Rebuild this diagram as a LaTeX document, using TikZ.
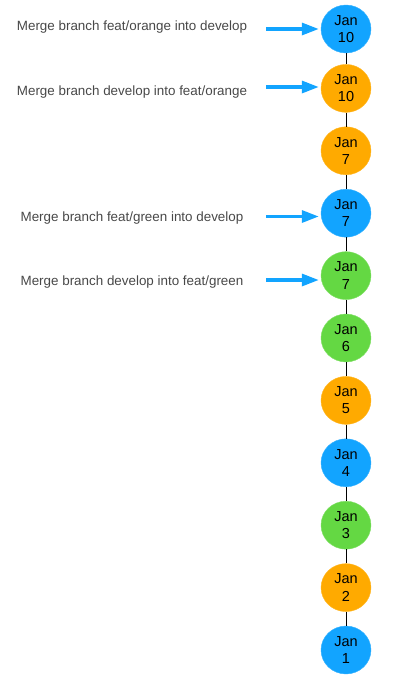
\documentclass[tikz,border=0pt]{standalone}
\usepackage{fontspec}
\setmainfont{Liberation Sans}
\usetikzlibrary{positioning,shapes.geometric,arrows.meta}
\definecolor{devblue}{HTML}{12A4FF}
\definecolor{featorange}{HTML}{FFAA00}
\definecolor{featgreen}{HTML}{64D843}
\definecolor{labelgray}{HTML}{484848}

\begin{document}
\begin{tikzpicture}[x=1pt,y=-1pt,node distance=14pt,
    vertex/.style={ellipse,draw,minimum width=50pt,minimum height=48pt,inner sep=0pt,
        align=center,text=black,font=\fontsize{14.5}{17.3}\selectfont},
    dev/.style={vertex,fill=devblue,draw=devblue!85!white},
    orange/.style={vertex,fill=featorange,draw=featorange!85!white},
    green/.style={vertex,fill=featgreen,draw=featgreen!80!white},
    merge/.style={anchor=base,text=labelgray,font=\fontsize{13.4}{16}\selectfont},
    mergearrow/.style={draw=devblue,line width=3.2pt,shorten >=2pt,
        -{Triangle[length=17pt,width=12pt]}}]
    \useasboundingbox (0,0) rectangle (400,686);
    \node[dev] (1) at (346,29) {Jan\\10};
    \node[orange] (2) [below=11pt of 1] {Jan\\10};
    \node[orange] (3) [below=of 2] {Jan\\7};
    \node[dev] (4) [below=of 3] {Jan\\7};
    \node[green] (5) [below=of 4] {Jan\\7};
    \node[green] (6) [below=of 5] {Jan\\6};
    \node[orange] (7) [below=of 6] {Jan\\5};
    \node[dev] (8) [below=of 7] {Jan\\4};
    \node[green] (9) [below=of 8] {Jan\\3};
    \node[orange] (10) [below=of 9] {Jan\\2};
    \node[dev] (11) [below=of 10] {Jan\\1};
    \path[draw=black,line width=0.8pt]
    (1) edge (2)
    (2) edge (3)
    (3) edge (4)
    (4) edge (5)
    (5) edge (6)
    (6) edge (7)
    (7) edge (8)
    (8) edge (9)
    (9) edge (10)
    (10) edge (11);
    % merge labels
    \node[merge] (m1) at (132,30.7) {Merge branch feat/orange into develop};
    \node[merge] (m2) at (132,95.7) {Merge branch develop into feat/orange};
    \node[merge] (m3) at (132,221.3) {Merge branch feat/green into develop};
    \node[merge] (m4) at (132,285) {Merge branch develop into feat/green};
    \coordinate (a1) at (266,29);
    \coordinate (a2) at (266,87);
    \coordinate (a3) at (266,216.5);
    \coordinate (a4) at (266,280);
    \draw[mergearrow] (a1) -- (a1 -| 1.west);
    \draw[mergearrow] (a2) -- (a2 -| 2.west);
    \draw[mergearrow] (a3) -- (a3 -| 4.west);
    \draw[mergearrow] (a4) -- (a4 -| 5.west);
\end{tikzpicture}
\end{document}
